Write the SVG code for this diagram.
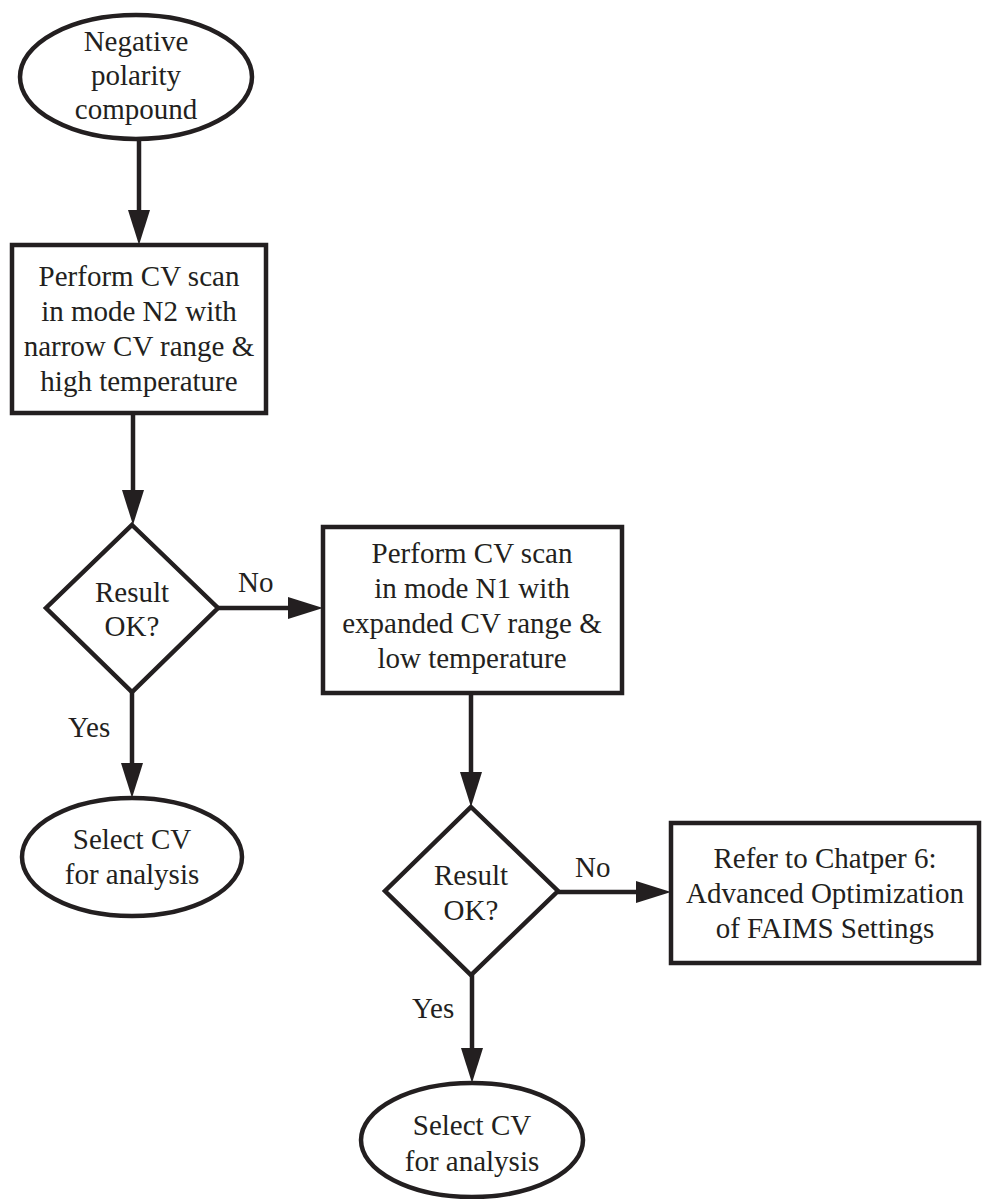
<svg xmlns="http://www.w3.org/2000/svg" width="982" height="1199" viewBox="0 0 982 1199">
<style>
.shape{fill:#fff;stroke:#231f20;stroke-width:4.5}
.t{font-family:"Liberation Serif","Times New Roman",serif;font-size:29px;fill:#231f20;text-anchor:middle}
.lbl{font-family:"Liberation Serif","Times New Roman",serif;font-size:29px;fill:#231f20}
.conn{stroke:#231f20;stroke-width:4.5;fill:none;marker-end:url(#ah)}
</style>
<defs>
<marker id="ah" markerUnits="userSpaceOnUse" viewBox="0 -11 35 22" markerWidth="35" markerHeight="22" refX="0" refY="0" orient="auto" overflow="visible">
<path d="M0,-11 L35,0 L0,11 Z" fill="#231f20"/>
</marker>
</defs>
<rect width="982" height="1199" fill="#fff"/>
<g id="connectors">
<line class="conn" x1="139" y1="139" x2="139" y2="210"/>
<line class="conn" x1="133" y1="413" x2="133" y2="490"/>
<line class="conn" x1="218" y1="608" x2="288" y2="608"/>
<line class="conn" x1="471" y1="693" x2="471" y2="772"/>
<line class="conn" x1="558" y1="892" x2="636" y2="892"/>
<line class="conn" x1="132" y1="692" x2="132" y2="763"/>
<line class="conn" x1="472" y1="975" x2="472" y2="1048"/>
<text class="lbl" x="238" y="592">No</text>
<text class="lbl" x="575" y="877">No</text>
<text class="lbl" x="68" y="737">Yes</text>
<text class="lbl" x="412" y="1018">Yes</text>
</g>
<g id="start">
<ellipse class="shape" cx="136" cy="77" rx="116" ry="62"/>
<text class="t" x="136" y="51">Negative</text>
<text class="t" x="136" y="85">polarity</text>
<text class="t" x="136" y="119">compound</text>
</g>
<g id="scanN2">
<rect class="shape" x="12" y="245" width="254" height="168"/>
<text class="t" x="139" y="286">Perform CV scan</text>
<text class="t" x="139" y="321">in mode N2 with</text>
<text class="t" x="139" y="356">narrow CV range &amp;</text>
<text class="t" x="139" y="391">high temperature</text>
</g>
<g id="decision1">
<polygon class="shape" points="132,525 218,608 132,692 46,608"/>
<text class="t" x="132" y="602">Result</text>
<text class="t" x="132" y="636">OK?</text>
</g>
<g id="scanN1">
<rect class="shape" x="323" y="527" width="299" height="166"/>
<text class="t" x="472" y="563">Perform CV scan</text>
<text class="t" x="472" y="598">in mode N1 with</text>
<text class="t" x="472" y="633">expanded CV range &amp;</text>
<text class="t" x="472" y="668">low temperature</text>
</g>
<g id="select1">
<ellipse class="shape" cx="132" cy="857" rx="110" ry="59"/>
<text class="t" x="132" y="849">Select CV</text>
<text class="t" x="132" y="884">for analysis</text>
</g>
<g id="decision2">
<polygon class="shape" points="471,807 558,891 471,975 385,891"/>
<text class="t" x="471" y="885">Result</text>
<text class="t" x="471" y="920">OK?</text>
</g>
<g id="chapter6">
<rect class="shape" x="671" y="823" width="308" height="140"/>
<text class="t" x="825" y="868">Refer to Chatper 6:</text>
<text class="t" x="825" y="903">Advanced Optimization</text>
<text class="t" x="825" y="938">of FAIMS Settings</text>
</g>
<g id="select2">
<ellipse class="shape" cx="472" cy="1140" rx="111" ry="57"/>
<text class="t" x="472" y="1135">Select CV</text>
<text class="t" x="472" y="1171">for analysis</text>
</g>
</svg>
